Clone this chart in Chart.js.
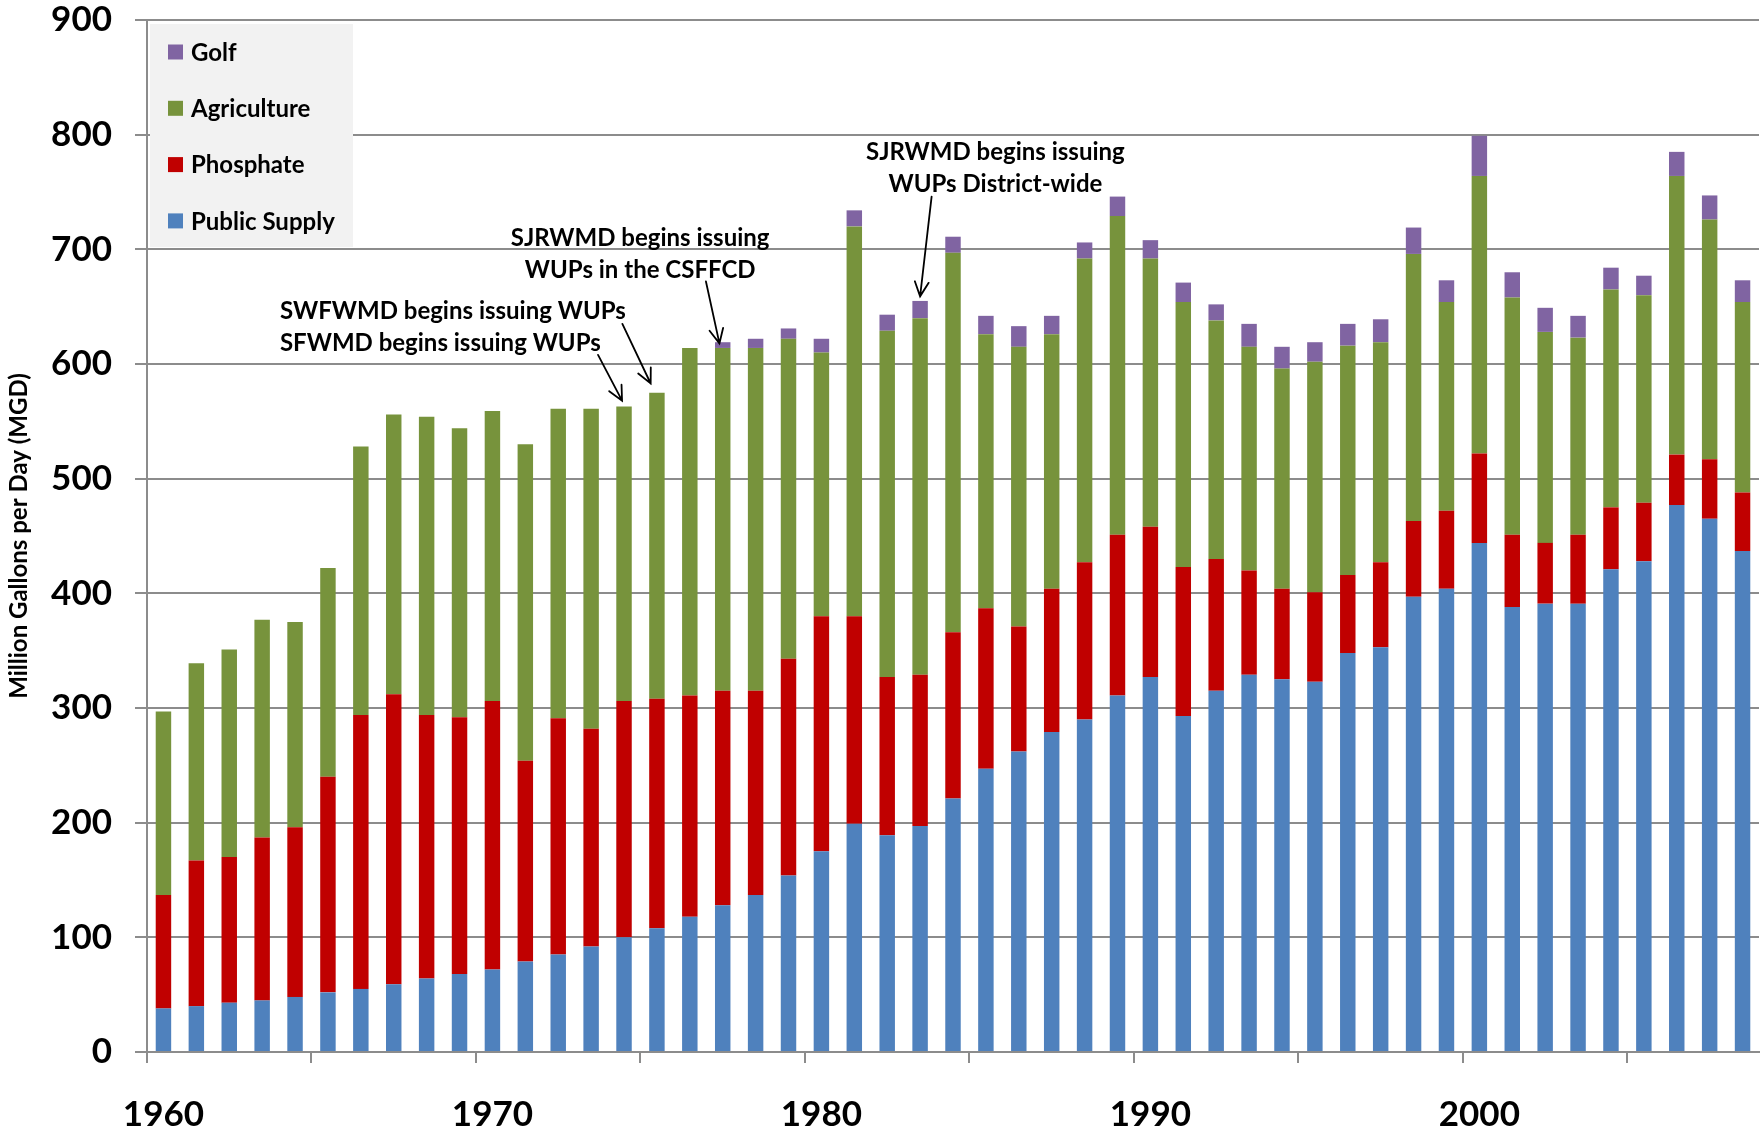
<!DOCTYPE html>
<html>
<head>
<meta charset="utf-8">
<script src="https://cdn.jsdelivr.net/npm/chart.js@4.4.1/dist/chart.umd.min.js"></script>
<style>
html, body { margin: 0; padding: 0; background: #ffffff; }
#wrap { width: 1763px; height: 1131px; position: relative; }
</style>
</head>
<body>
<div id="wrap"><canvas id="c" width="1763" height="1131"></canvas></div>
<script>
// ---- data ----
const years = ['1960','1961','1962','1963','1964','1965','1966','1967','1968','1969',
               '1970','1971','1972','1973','1974','1975','1976','1977','1978','1979',
               '1980','1981','1982','1983','1984','1985','1986','1987','1988','1989',
               '1990','1991','1992','1993','1994','1995','1996','1997','1998','1999',
               '2000','2001','2002','2003','2004','2005','2006','2007','2008'];
const publicSupply = [38,40,43,45,48,52,55,59,64,68,
                      72,79,85,92,100,108,118,128,137,154,
                      175,199,189,197,221,247,262,279,290,311,
                      327,293,315,329,325,323,348,353,397,404,
                      444,388,391,391,421,428,477,465,437];
const phosphate = [99,127,127,142,148,188,239,253,230,224,
                   234,175,206,190,206,200,193,187,178,189,
                   205,181,138,132,145,140,109,125,137,140,
                   131,130,115,91,79,78,68,74,66,68,
                   78,63,53,60,54,51,44,52,51];
const agriculture = [160,172,181,190,179,182,234,244,260,252,
                     253,276,270,279,257,267,303,299,299,279,
                     230,340,302,311,331,239,244,222,265,278,
                     234,231,208,195,192,201,200,192,233,182,
                     242,207,184,172,190,181,243,209,166];
const golf = [0,0,0,0,0,0,0,0,0,0,
              0,0,0,0,0,0,0,5,8,9,
              12,14,14,15,14,16,18,16,14,17,
              16,17,14,20,19,17,19,20,23,19,
              35,22,21,19,19,17,21,21,19];
const seriesNames = ['Public Supply','Phosphate','Agriculture','Golf'];
const seriesColors = ['#4F81BD','#C00000','#77933C','#8064A2'];
const yMin = 0, yMax = 900, yStep = 100;
const yTitle = 'Million Gallons per Day (MGD)';

// annotations: text, category position, value position, alignment
const noteText  = ['SWFWMD begins issuing WUPs','SFWMD begins issuing WUPs',
                   'SJRWMD begins issuing','WUPs in the CSFFCD',
                   'SJRWMD begins issuing','WUPs District-wide'];
const noteIdx   = [3.54, 3.54, 14.49, 14.49, 25.29, 25.29];
const noteVal   = [646, 618.5, 710, 682, 784.5, 756.6];
const noteAlign = ['left','left','center','center','center','center'];
// arrows: tail (category, value) -> tip (category, value)
const arrowFromIdx = [13.21, 13.95, 16.49, 23.35];
const arrowFromVal = [608, 635, 672, 746];
const arrowToIdx   = [13.94, 14.81, 16.90, 23.00];
const arrowToVal   = [568, 583, 618, 659];

const FONT = 'Lato';
const AXIS_GRAY = '#8C8C8C';

const boxLegend = {
  id: 'boxLegend',
  afterDatasetsDraw(chart) {
    const { ctx, chartArea } = chart;
    const x0 = chartArea.left + 3, y0 = chartArea.top + 4;
    ctx.save();
    ctx.fillStyle = '#F2F2F2';
    ctx.fillRect(x0, y0, 203, 223);
    ctx.font = 'bold 24px ' + FONT;
    ctx.textBaseline = 'middle';
    ctx.textAlign = 'left';
    const order = [3, 2, 1, 0];
    order.forEach((di, k) => {
      const ds = chart.data.datasets[di];
      const cy = y0 + 28 + k * 56.3;
      ctx.fillStyle = ds.backgroundColor;
      ctx.fillRect(x0 + 18, cy - 7.5, 15, 15);
      ctx.fillStyle = '#000000';
      ctx.fillText(ds.label, x0 + 41, cy + 1);
    });
    ctx.restore();
  }
};

const notes = {
  id: 'notes',
  afterDatasetsDraw(chart) {
    const { ctx } = chart;
    const xs = chart.scales.x, ys = chart.scales.y;
    ctx.save();
    ctx.font = 'bold 24px ' + FONT;
    ctx.fillStyle = '#000000';
    ctx.textBaseline = 'middle';
    noteText.forEach((t, i) => {
      ctx.textAlign = noteAlign[i];
      ctx.fillText(t, xs.getPixelForValue(noteIdx[i]), ys.getPixelForValue(noteVal[i]));
    });
    ctx.strokeStyle = '#000000';
    ctx.lineWidth = 1.8;
    ctx.lineCap = 'round';
    arrowFromIdx.forEach((_, i) => {
      const x1 = xs.getPixelForValue(arrowFromIdx[i]), y1 = ys.getPixelForValue(arrowFromVal[i]);
      const x2 = xs.getPixelForValue(arrowToIdx[i]), y2 = ys.getPixelForValue(arrowToVal[i]);
      const a = Math.atan2(y2 - y1, x2 - x1);
      const h = 16, spread = 0.45;
      ctx.beginPath();
      ctx.moveTo(x1, y1); ctx.lineTo(x2, y2);
      ctx.moveTo(x2 - h * Math.cos(a - spread), y2 - h * Math.sin(a - spread));
      ctx.lineTo(x2, y2);
      ctx.lineTo(x2 - h * Math.cos(a + spread), y2 - h * Math.sin(a + spread));
      ctx.stroke();
    });
    ctx.restore();
  }
};

const seriesData = [publicSupply, phosphate, agriculture, golf];

new Chart(document.getElementById('c'), {
  type: 'bar',
  data: {
    labels: years,
    datasets: seriesNames.map((n, i) => ({
      label: n,
      data: seriesData[i],
      backgroundColor: seriesColors[i],
      borderWidth: 0,
      barPercentage: 0.47,
      categoryPercentage: 1.0
    }))
  },
  options: {
    responsive: false,
    animation: false,
    devicePixelRatio: 1,
    layout: { padding: { top: 20, right: 4, left: 0, bottom: 0 } },
    plugins: {
      legend: { display: false },
      tooltip: { enabled: false }
    },
    scales: {
      x: {
        stacked: true,
        grid: {
          offset: true,
          drawOnChartArea: false,
          drawTicks: true,
          tickLength: 11,
          lineWidth: 2,
          color: c => (typeof c.index === 'number' && c.index % 5 === 0) ? AXIS_GRAY : 'rgba(0,0,0,0)'
        },
        border: { display: true, color: AXIS_GRAY, width: 2 },
        ticks: {
          autoSkip: false, maxRotation: 0, minRotation: 0,
          font: { family: FONT, weight: 'bold', size: 35 },
          color: '#000000',
          padding: 31,
          callback: (v, i) => (years[i].endsWith('0') ? years[i] : '')
        },
        afterFit(s) { s.height = 79; s.paddingLeft = 0; s.paddingRight = 0; }
      },
      y: {
        stacked: true,
        min: yMin, max: yMax,
        ticks: {
          stepSize: yStep,
          font: { family: FONT, weight: 'bold', size: 35 },
          color: '#000000',
          padding: 23
        },
        grid: { color: AXIS_GRAY, lineWidth: 2, tickLength: 12, drawTicks: true },
        border: { display: true, color: AXIS_GRAY, width: 2 },
        title: {
          display: true, text: yTitle, color: '#000000',
          font: { family: FONT, weight: 'bold', size: 24 },
          padding: { top: 5, bottom: 0 }
        },
        afterFit(s) { s.width = 147; s.paddingTop = 0; s.paddingBottom = 0; }
      }
    }
  },
  plugins: [boxLegend, notes]
});
</script>
</body>
</html>
